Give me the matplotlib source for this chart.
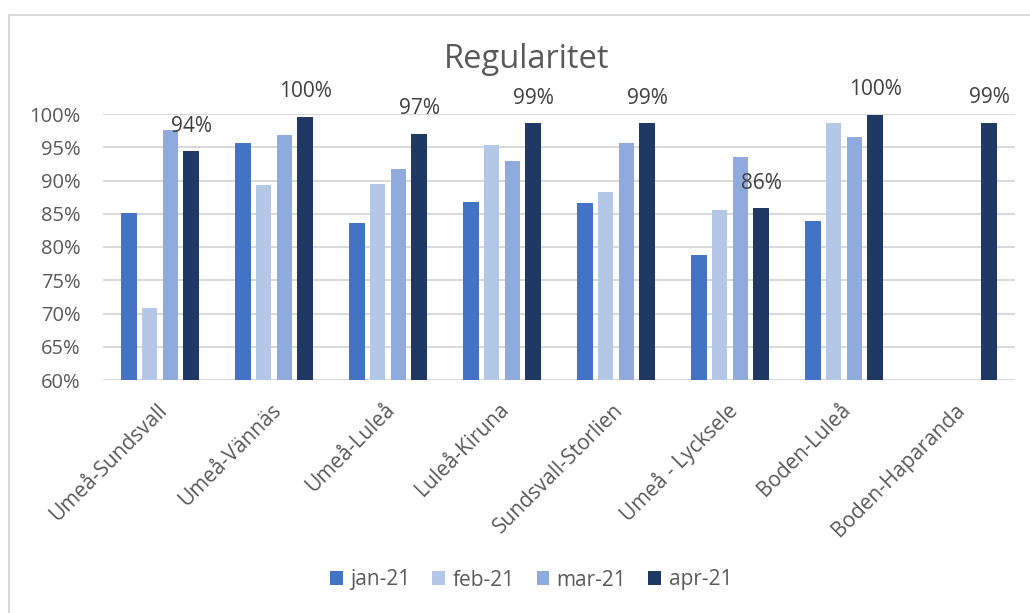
import numpy as np
import matplotlib
matplotlib.use("Agg")
import matplotlib.pyplot as plt
from matplotlib.lines import Line2D
from matplotlib.patches import Patch

plt.rcParams['font.family'] = ['Open Sans', 'DejaVu Sans']

categories = ["Umeå-Sundsvall", "Umeå-Vännäs", "Umeå-Luleå", "Luleå-Kiruna",
              "Sundsvall-Storlien", "Umeå - Lycksele", "Boden-Luleå", "Boden-Haparanda"]
series_names = ["jan-21", "feb-21", "mar-21", "apr-21"]
jan = [85.1, 95.6, 83.6, 86.8, 86.6, 78.8, 83.9, np.nan]
feb = [70.8, 89.3, 89.5, 95.3, 88.2, 85.6, 98.6, np.nan]
mar = [97.6, 96.8, 91.8, 92.9, 95.7, 93.6, 96.6, np.nan]
apr = [94.4, 99.6, 97.0, 98.6, 98.6, 85.8, 99.9, 98.7]
colors = ["#4472C4", "#B4C7E7", "#8FAADC", "#203864"]
yticks = [60, 65, 70, 75, 80, 85, 90, 95, 100]

fig = plt.figure(figsize=(10.3, 6.13), dpi=100)
ax = fig.add_axes([103/1030, 1 - 380/613, (1015-103)/1030, (380-114)/613])

x = np.arange(len(categories))
width = 0.14
pitch = 0.184
all_series = [jan, feb, mar, apr]
for i, (vals, c, name) in enumerate(zip(all_series, colors, series_names)):
    v = np.array(vals, dtype=float)
    ax.bar(x + (i - 1.5) * pitch, v - 60, bottom=60, width=width, color=c,
           label=name, zorder=3, clip_on=False)

# data labels for apr-21
for xi, v in zip(x, apr):
    ax.annotate(f"{round(v):d}%", (xi + 1.5 * pitch, v), xytext=(0, 25),
                textcoords="offset pixels",
                ha="center", va="center", fontsize=15, color="#404040")

ax.set_xlim(-0.5, len(categories) - 0.5)
ax.set_ylim(60, 100)
ax.set_yticks(yticks)
ax.set_yticklabels([f"{t}%" for t in yticks], fontsize=14.5, color="#595959")
ax.yaxis.grid(True, color="#D9D9D9", linewidth=1.5, zorder=0)
ax.set_axisbelow(True)
ax.tick_params(axis="y", length=0, pad=16)
ax.tick_params(axis="x", length=0, pad=14)
ax.set_xticks(x - 0.03)
ax.set_xticklabels(categories, rotation=45, ha="right", rotation_mode="anchor",
                   fontsize=15, color="#595959")
for s in ax.spines.values():
    s.set_visible(False)

fig.text(527/1030, 1 - 60/613, "Regularitet", ha="center", va="center",
         fontsize=23.5, color="#595959")

handles = [Patch(facecolor=c, edgecolor="none") for c in colors]
fig.legend(handles, series_names, loc="center", bbox_to_anchor=(531/1030, 1 - 580/613),
           ncol=4, frameon=False, fontsize=15, labelcolor="#595959",
           handlelength=0.62, handleheight=0.62, handletextpad=0.35, columnspacing=1.05)

# chart border (left & top)
fig.add_artist(Line2D([9/1030, 9/1030], [0, 1 - 15/613], transform=fig.transFigure,
                      color="#D9D9D9", linewidth=1.5))
fig.add_artist(Line2D([9/1030, 1], [1 - 15/613, 1 - 15/613], transform=fig.transFigure,
                      color="#D9D9D9", linewidth=1.5))

fig.savefig("out.png", dpi=100)
